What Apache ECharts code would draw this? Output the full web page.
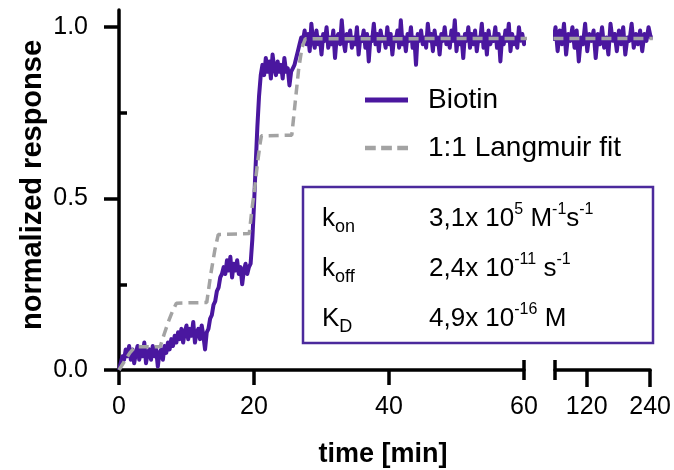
<!DOCTYPE html>
<html>
<head>
<meta charset="utf-8">
<script src="https://cdn.jsdelivr.net/npm/echarts@6/dist/echarts.min.js"></script>
<style>
  html, body { margin: 0; padding: 0; background: #fff; }
  #chart { width: 674px; height: 470px; }
</style>
</head>
<body>
<div id="chart"></div>
<script>
// Biotin binding kinetics: normalized response vs time, broken time axis (0–60 | 60–240 min)

// Measured trace, first segment: one sample every 0.25 min starting at t = 0
const biotinStepMin = 0.25;
const biotinMain = [
  // 0 – 1 min
  0.00, 0.02, 0.04, 0.03, 0.06,
  // 1.25 – 6.75 min
  0.04, 0.07, 0.03, 0.06, 0.02, 0.05, 0.07, 0.03, 0.06, 0.04, 0.08, 0.02,
  0.05, 0.06, 0.03, 0.07, 0.04, 0.06, 0.01, 0.05, 0.06, 0.03, 0.07,
  // 7 – 8.75 min
  0.05, 0.08, 0.06, 0.09, 0.07, 0.10, 0.08, 0.11,
  // 9 – 12.75 min
  0.09, 0.12, 0.08, 0.11, 0.13, 0.09, 0.12, 0.10, 0.14, 0.08, 0.11, 0.12,
  0.09, 0.13, 0.10, 0.06,
  // 13 – 15.25 min
  0.11, 0.12, 0.15, 0.16, 0.19, 0.20, 0.23, 0.24, 0.27, 0.28,
  // 15.5 – 19.25 min
  0.30, 0.28, 0.32, 0.29, 0.33, 0.27, 0.31, 0.29, 0.32, 0.28, 0.30, 0.25,
  0.29, 0.31, 0.28, 0.30,
  // 19.5 – 21 min
  0.31, 0.38, 0.48, 0.60, 0.71, 0.80, 0.86,
  // 21.25 – 25.75 min
  0.89, 0.86, 0.91, 0.87, 0.90, 0.85, 0.92, 0.88, 0.86, 0.90, 0.87, 0.89,
  0.85, 0.91, 0.87, 0.88, 0.83, 0.87, 0.88,
  // 26 – 27.25 min
  0.89, 0.91, 0.93, 0.95, 0.97, 0.96,
  // 27.5 – 60.25 min
  0.99, 0.95, 0.98, 0.93, 1.01, 0.96, 0.94, 0.99, 0.95, 0.97, 0.92, 0.98,
  0.96, 1.00, 0.94, 0.97, 0.95, 0.99, 0.91, 0.97, 0.98, 0.95, 1.02, 0.96,
  0.93, 0.98, 0.96, 0.99, 0.94, 0.97, 0.95, 1.00, 0.92, 0.97, 0.96, 0.99,
  0.94, 0.98, 0.90, 0.97, 0.96, 1.01, 0.95, 0.98, 0.93, 0.99, 0.96, 0.97,
  0.94, 1.00, 0.95, 0.98, 0.92, 0.97, 0.96, 0.99, 0.94, 1.02, 0.95, 0.97,
  0.93, 0.98, 0.96, 1.00, 0.94, 0.97, 0.89, 0.98, 0.96, 0.99, 0.95, 0.97,
  0.94, 1.01, 0.96, 0.98, 0.93, 0.99, 0.95, 0.97, 0.92, 0.98, 0.96, 1.00,
  0.95, 0.97, 0.94, 0.99, 0.96, 1.02, 0.93, 0.98, 0.95, 0.97, 0.91, 0.98,
  0.96, 1.00, 0.94, 0.98, 0.95, 0.99, 0.93, 0.97, 0.96, 1.01, 0.94, 0.98,
  0.92, 0.99, 0.95, 0.97, 0.96, 1.00, 0.94, 0.98, 0.90, 0.97, 0.95, 0.99,
  0.96, 1.01, 0.93, 0.98, 0.95, 0.97, 0.94, 1.00, 0.96, 0.98, 0.95, 0.97
];

// Measured trace, late segment: one sample every 4 min starting at t = 57
const biotinLateStart = 57;
const biotinLateStepMin = 4;
const biotinLate = [
  0.96, 1.00, 0.93, 0.99, 0.95, 1.01, 0.92, 0.98, 0.96, 1.00,
  0.94, 0.99, 0.90, 0.97, 0.95, 1.01, 0.93, 0.98, 0.96, 0.99,
  0.91, 0.98, 0.95, 1.00, 0.94, 0.97, 0.92, 1.01, 0.96, 0.98,
  0.93, 0.99, 0.95, 1.00, 0.92, 0.97, 0.96, 1.01, 0.94, 0.98,
  0.95, 0.99, 0.93, 0.98, 0.96, 1.00, 0.97, 0.97
];

// 1:1 Langmuir fit (time in min, normalized response)
const fitTime  = [0, 0.8, 1.6, 2.4, 6.1, 6.7, 7.3, 7.9, 8.5, 13.0, 13.6, 14.2, 14.7, 19.3, 19.7, 20.1, 20.5, 20.9, 21.1, 25.6, 26.1, 26.6, 27.1, 27.6, 60.5];
const fitValue = [0, 0.025, 0.05, 0.068, 0.068, 0.105, 0.14, 0.17, 0.195, 0.197, 0.28, 0.35, 0.395, 0.398, 0.47, 0.53, 0.60, 0.66, 0.683, 0.685, 0.78, 0.875, 0.94, 0.966, 0.967];
const fitLateTime  = [57, 245];
const fitLateValue = [0.967, 0.967];

// Axis ticks
const yMajorTicks = [0, 0.5, 1.0];
const yMinorTicks = [0.25, 0.75];
const xMainTicks = [0, 20, 40, 60];
const xLateTicks = [120, 240];

// Fitted kinetic constants shown in the box
const kineticLabels = [
  { sym: '{m|k}{sub|on}',  val: '{m|3,1x 10}{sup|5}{m| M}{sup|-1}{m|s}{sup|-1}' },
  { sym: '{m|k}{sub|off}', val: '{m|2,4x 10}{sup|-11}{m| s}{sup|-1}' },
  { sym: '{m|K}{sub|D}',   val: '{m|4,9x 10}{sup|-16}{m| M}' }
];

const PURPLE = '#4a179f';
const BOX_PURPLE = '#4b2a9c';
const GRAY = '#a3a3a3';
const FONT = '"Liberation Sans", Arial, Helvetica, sans-serif';

const mainPairs = biotinMain.map((v, i) => [i * biotinStepMin, v]);
const latePairs = biotinLate.map((v, i) => [biotinLateStart + i * biotinLateStepMin, v]);
const fitPairs = fitTime.map((t, i) => [t, fitValue[i]]);
const fitLatePairs = fitLateTime.map((t, i) => [t, fitLateValue[i]]);

const chart = echarts.init(document.getElementById('chart'), null, { renderer: 'canvas' });

const axisLineStyle = { color: '#000', width: 3.5 };
const Y_MAX = 1.05;

const rich = {
  m:   { fontSize: 26, fontFamily: FONT, color: BOX_PURPLE, lineHeight: 34, verticalAlign: 'middle' },
  sup: { fontSize: 16, fontFamily: FONT, color: BOX_PURPLE, lineHeight: 16, verticalAlign: 'top' },
  sub: { fontSize: 18, fontFamily: FONT, color: BOX_PURPLE, lineHeight: 18, verticalAlign: 'bottom' }
};

const rowY = [219, 269, 319];
const boxTexts = [];
kineticLabels.forEach((row, i) => {
  boxTexts.push({ type: 'text', x: 322, y: rowY[i], z: 10, style: { text: row.sym, rich, verticalAlign: 'middle' } });
  boxTexts.push({ type: 'text', x: 429, y: rowY[i], z: 10, style: { text: row.val, rich, verticalAlign: 'middle' } });
});

// Break caps of the time axis: a short tick at the segment edge, no line, no labels
function capAxis(gridIndex, min, max, edge, inside) {
  return {
    type: 'value', gridIndex, min, max, position: 'bottom',
    axisLine: { show: false },
    axisTick: { show: true, inside, length: 10, lineStyle: axisLineStyle, customValues: [edge] },
    axisLabel: { show: false },
    splitLine: { show: false }
  };
}

const traceStyle = { color: PURPLE, width: 4, join: 'round' };
const fitStyle = { color: GRAY, width: 3.5, type: [10, 6] };

const option = {
  animation: false,
  backgroundColor: '#fff',
  textStyle: { fontFamily: FONT },
  grid: [
    { left: 119, top: 10, width: 405, height: 360 },
    { left: 555, top: 10, width: 98, height: 360 }
  ],
  xAxis: [
    {
      type: 'value', gridIndex: 0, min: 0, max: 60,
      axisLine: { lineStyle: axisLineStyle },
      axisTick: { length: 15, lineStyle: axisLineStyle, customValues: xMainTicks.slice(0, 3) },
      axisLabel: { customValues: xMainTicks, fontSize: 25, color: '#000', margin: 25, fontFamily: FONT },
      splitLine: { show: false }
    },
    capAxis(0, 0, 60, 60, true),
    capAxis(0, 0, 60, 60, false),
    {
      type: 'value', gridIndex: 1, min: 60, max: 240,
      axisLine: { lineStyle: axisLineStyle },
      axisTick: { length: 17, lineStyle: axisLineStyle, customValues: xLateTicks },
      axisLabel: { customValues: xLateTicks, fontSize: 25, color: '#000', margin: 25, fontFamily: FONT },
      splitLine: { show: false }
    },
    capAxis(1, 60, 240, 60, true),
    capAxis(1, 60, 240, 60, false)
  ],
  yAxis: [
    {
      type: 'value', gridIndex: 0, min: 0, max: Y_MAX,
      axisLine: { show: true, lineStyle: axisLineStyle },
      axisTick: { show: true, length: 15, lineStyle: axisLineStyle, customValues: yMajorTicks },
      axisLabel: {
        customValues: yMajorTicks, fontSize: 25, color: '#000', margin: 31, fontFamily: FONT,
        formatter: v => v.toFixed(1)
      },
      splitLine: { show: false },
      name: 'normalized response', nameLocation: 'middle', nameGap: 72, nameMoveOverlap: false,
      nameTextStyle: { fontSize: 29, fontWeight: 'bold', color: '#000', fontFamily: FONT, padding: [0, 0, 0, 10] }
    },
    {
      type: 'value', gridIndex: 0, min: 0, max: Y_MAX,
      axisLine: { show: false },
      axisTick: { show: true, length: 8, lineStyle: axisLineStyle, customValues: yMinorTicks },
      axisLabel: { show: false }, splitLine: { show: false }
    },
    { type: 'value', gridIndex: 1, min: 0, max: Y_MAX, show: false }
  ],
  legend: {
    orient: 'vertical', left: 360, top: 81, itemWidth: 43, itemHeight: 14, itemGap: 20,
    textStyle: { fontSize: 28, color: '#000', fontFamily: FONT, padding: [0, 0, 0, 15] },
    data: [
      { name: 'Biotin', icon: 'path://M0,0H43V5H0Z', itemStyle: { color: PURPLE } },
      { name: '1:1 Langmuir fit', icon: 'path://M0,0H10V4H0Z M15,0H25V4H15Z M30,0H40V4H30Z', itemStyle: { color: GRAY } }
    ]
  },
  series: [
    {
      name: 'Biotin', type: 'line', xAxisIndex: 0, yAxisIndex: 0, data: mainPairs,
      showSymbol: false, symbol: 'none', clip: false,
      lineStyle: traceStyle, itemStyle: { color: PURPLE }, z: 2
    },
    {
      name: 'Biotin', type: 'line', xAxisIndex: 3, yAxisIndex: 2, data: latePairs,
      showSymbol: false, symbol: 'none', clip: false,
      lineStyle: traceStyle, itemStyle: { color: PURPLE }, z: 2
    },
    {
      name: '1:1 Langmuir fit', type: 'line', xAxisIndex: 0, yAxisIndex: 0, data: fitPairs,
      showSymbol: false, symbol: 'none', clip: false,
      lineStyle: fitStyle, itemStyle: { color: GRAY }, z: 3
    },
    {
      name: '1:1 Langmuir fit', type: 'line', xAxisIndex: 3, yAxisIndex: 2, data: fitLatePairs,
      showSymbol: false, symbol: 'none', clip: false,
      lineStyle: fitStyle, itemStyle: { color: GRAY }, z: 3
    }
  ],
  graphic: [
    {
      type: 'rect', shape: { x: 303, y: 187, width: 350, height: 156 },
      style: { fill: 'none', stroke: BOX_PURPLE, lineWidth: 2.5 }, z: 10
    },
    ...boxTexts,
    {
      type: 'text', x: 383, y: 455, z: 10,
      style: { text: 'time [min]', fontSize: 27, fontWeight: 'bold', fontFamily: FONT, fill: '#000', align: 'center', verticalAlign: 'middle' }
    }
  ]
};

chart.setOption(option);
</script>
</body>
</html>
